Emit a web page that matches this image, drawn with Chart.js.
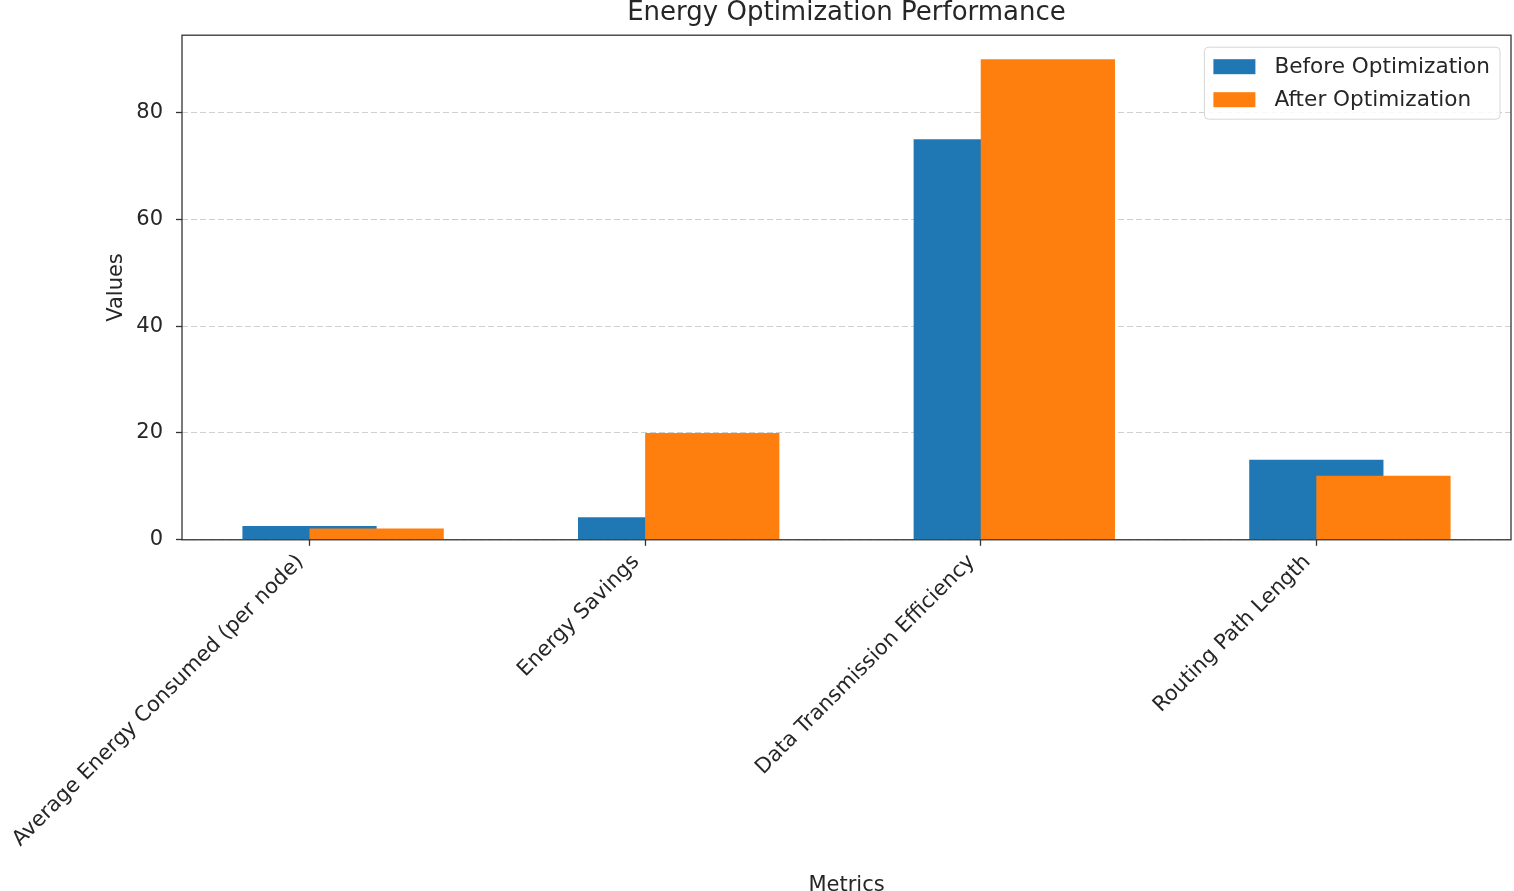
<!DOCTYPE html>
<html><head><meta charset="utf-8">
<script src="https://cdn.jsdelivr.net/npm/chart.js@4.4.1/dist/chart.umd.min.js"></script>
<style>html,body{margin:0;padding:0;background:#fff}#wrap{width:1514px;height:891px;position:relative}</style>
</head><body><div id="wrap"><canvas id="c"></canvas></div>
<script>
const categories = ["Average Energy Consumed (per node)", "Energy Savings", "Data Transmission Efficiency", "Routing Path Length"];
const beforeValues = [2.6, 4.2, 75, 15];
const afterValues = [2.1, 20, 90, 12];
const yTickValues = [0, 20, 40, 60, 80];
const seriesNames = ["Before Optimization", "After Optimization"];
const seriesColors = ["#1f77b4", "#ff7f0e"];
const chartTitle = "Energy Optimization Performance";
const xTitle = "Metrics";
const yTitle = "Values";

const barWidth = 0.4;
const lo = -barWidth / 2, hi = categories.length - 1 + barWidth;
const xMin = lo - 0.05 * (hi - lo), xMax = hi + 0.05 * (hi - lo);
const yMax = 1.05 * Math.max(...beforeValues, ...afterValues);
const FONT = "'DejaVu Sans', sans-serif";
const TXT = "#262626";
const FS = 21;

const frame = {
  id: 'frame',
  afterDraw(chart) {
    const {ctx, chartArea: a} = chart;
    ctx.save();
    ctx.strokeStyle = '#333';
    ctx.lineWidth = 1.3;
    ctx.strokeRect(a.left, a.top, a.right - a.left, a.bottom - a.top);
    ctx.restore();
  }
};

const legendBox = {
  id: 'legendBox',
  afterDraw(chart) {
    const {ctx, chartArea: a} = chart;
    ctx.save();
    ctx.font = "21.6px " + FONT;
    const tw = Math.max(...chart.data.datasets.map(d => ctx.measureText(d.label).width));
    const padL = 9, patchW = 42, patchH = 15, gap = 19, padR = 10, rowH = 33, padT = 3;
    const w = padL + patchW + gap + tw + padR;
    const h = padT * 2 + rowH * chart.data.datasets.length;
    const x0 = a.right - 11 - w, y0 = a.top + 12;
    ctx.fillStyle = 'rgba(255,255,255,0.85)';
    ctx.strokeStyle = '#d6d6d6';
    ctx.lineWidth = 1;
    ctx.beginPath();
    ctx.roundRect(x0, y0, w, h, 4);
    ctx.fill(); ctx.stroke();
    chart.data.datasets.forEach((d, i) => {
      const cy = y0 + padT + rowH * i + rowH / 2;
      ctx.fillStyle = d.backgroundColor;
      ctx.fillRect(x0 + padL, cy - patchH / 2, patchW, patchH);
      ctx.fillStyle = TXT;
      ctx.textBaseline = 'middle';
      ctx.textAlign = 'left';
      ctx.fillText(d.label, x0 + padL + patchW + gap, cy + 1);
    });
    ctx.restore();
  }
};

const intTicks = categories.map((c, i) => ({value: i}));

new Chart(document.getElementById('c'), {
  type: 'bar',
  data: {
    datasets: [
      {
        label: seriesNames[0],
        data: categories.map((c, i) => ({x: i, y: beforeValues[i]})),
        backgroundColor: seriesColors[0],
        xAxisID: 'x', grouped: false, barPercentage: barWidth, categoryPercentage: 1, order: 1
      },
      {
        label: seriesNames[1],
        data: categories.map((c, i) => ({x: i + barWidth / 2, y: afterValues[i]})),
        backgroundColor: seriesColors[1],
        xAxisID: 'x2', grouped: false, barPercentage: barWidth, categoryPercentage: 1, order: 0
      }
    ]
  },
  options: {
    responsive: true,
    maintainAspectRatio: false,
    animation: false,
    layout: {padding: {left: 104, right: 3, top: 0, bottom: 0}},
    plugins: {
      legend: {display: false},
      tooltip: {enabled: false},
      title: {
        display: true, text: chartTitle, fullSize: false,
        font: {family: FONT, size: 26, weight: 'normal'}, color: TXT,
        padding: {top: -2, bottom: 6}
      }
    },
    scales: {
      x: {
        type: 'linear', min: xMin, max: xMax, offset: false,
        afterBuildTicks: s => { s.ticks = intTicks.map(t => ({...t})); },
        afterFit: s => { s.paddingLeft = 0; s.paddingRight = 0; },
        ticks: {
          callback: v => categories[Math.round(v)],
          minRotation: 45, maxRotation: 45, autoSkip: false, labelOffset: -9,
          font: {family: FONT, size: FS}, color: TXT, padding: 4
        },
        grid: {offset: false, drawOnChartArea: false, drawTicks: true, tickLength: 6, tickColor: '#333', tickWidth: 1.3},
        border: {display: false},
        title: {display: true, text: xTitle, font: {family: FONT, size: FS}, color: TXT, padding: {top: 17, bottom: -7}}
      },
      x2: {
        type: 'linear', min: xMin, max: xMax, display: false, offset: false,
        afterBuildTicks: s => { s.ticks = intTicks.map(t => ({...t})); },
        grid: {display: false, offset: false}
      },
      y: {
        type: 'linear', min: 0, max: yMax,
        afterBuildTicks: s => { s.ticks = yTickValues.map(v => ({value: v})); },
        afterFit: s => { s.width = 78; },
        ticks: {font: {family: FONT, size: FS}, color: TXT, padding: 13},
        grid: {
          color: 'rgba(176,176,176,0.6)', lineWidth: 1,
          tickLength: 6, tickColor: '#333', tickWidth: 1.3, tickBorderDash: []
        },
        border: {display: false, dash: [6, 3]},
        title: {display: true, text: yTitle, font: {family: FONT, size: FS}, color: TXT, padding: {top: 0, bottom: 7}}
      }
    }
  },
  plugins: [frame, legendBox]
});
</script>
</body></html>
